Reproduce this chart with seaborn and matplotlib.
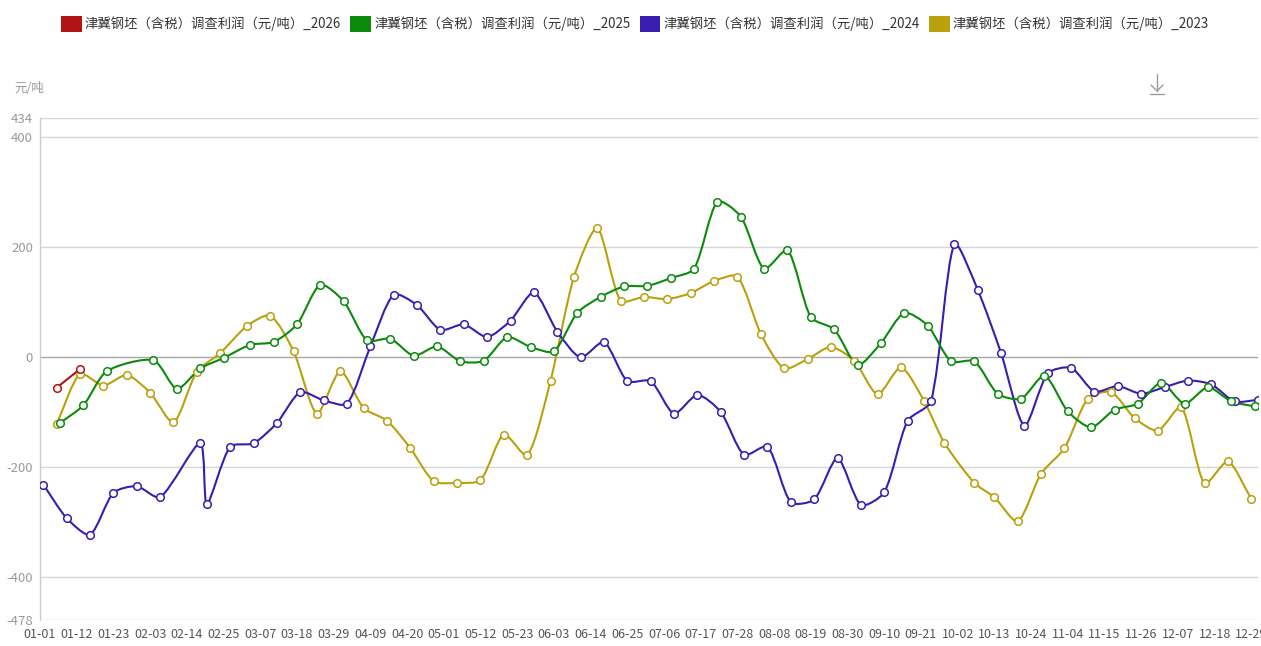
import numpy as np
import pandas as pd
import seaborn as sns
import matplotlib.pyplot as plt
from matplotlib.path import Path
from matplotlib.patches import PathPatch, Patch
from matplotlib.lines import Line2D

NAME = '津冀钢坯（含税）调查利润（元/吨）_'

dates_2026 = ['01-06', '01-13']
profit_2026 = [-56, -22]

dates_2025 = ['01-07', '01-14', '01-21', '02-04', '02-11', '02-18', '02-25', '03-04', '03-11',
              '03-18', '03-25', '04-01', '04-08', '04-15', '04-22', '04-29', '05-06', '05-13',
              '05-20', '05-27', '06-03', '06-10', '06-17', '06-24', '07-01', '07-08', '07-15',
              '07-22', '07-29', '08-05', '08-12', '08-19', '08-26', '09-02', '09-09', '09-16',
              '09-23', '09-30', '10-07', '10-14', '10-21', '10-28', '11-04', '11-11', '11-18',
              '11-25', '12-02', '12-09', '12-16', '12-23', '12-30']
profit_2025 = [-120, -88, -26, -6, -58, -21, -2, 22, 27,
               59, 131, 101, 30, 33, 2, 19, -8, -7,
               36, 18, 10, 80, 109, 128, 129, 143, 160,
               282, 255, 160, 194, 72, 50, -15, 25, 80,
               57, -8, -8, -67, -76, -34, -99, -128, -96,
               -85, -47, -85, -55, -81, -90]

dates_2024 = ['01-02', '01-09', '01-16', '01-23', '01-30', '02-06', '02-18', '02-20', '02-27',
              '03-05', '03-12', '03-19', '03-26', '04-02', '04-09', '04-16', '04-23', '04-30',
              '05-07', '05-14', '05-21', '05-28', '06-04', '06-11', '06-18', '06-25', '07-02',
              '07-09', '07-16', '07-23', '07-30', '08-06', '08-13', '08-20', '08-27', '09-03',
              '09-10', '09-17', '09-24', '10-01', '10-08', '10-15', '10-22', '10-29', '11-05',
              '11-12', '11-19', '11-26', '12-03', '12-10', '12-17', '12-24', '12-31']
profit_2024 = [-232, -293, -323, -247, -235, -255, -157, -267, -163,
               -157, -120, -64, -79, -85, 19, 113, 94, 49,
               59, 36, 66, 117, 46, -1, 27, -44, -44,
               -103, -69, -100, -178, -163, -264, -259, -184, -269,
               -246, -116, -81, 205, 122, 7, -125, -30, -20,
               -63, -53, -67, -55, -43, -50, -81, -78]

dates_2023 = ['01-06', '01-13', '01-20', '01-27', '02-03', '02-10', '02-17', '02-24', '03-03',
              '03-10', '03-17', '03-24', '03-31', '04-07', '04-14', '04-21', '04-28', '05-05',
              '05-12', '05-19', '05-26', '06-02', '06-09', '06-16', '06-23', '06-30', '07-07',
              '07-14', '07-21', '07-28', '08-04', '08-11', '08-18', '08-25', '09-01', '09-08',
              '09-15', '09-22', '09-28', '10-07', '10-13', '10-20', '10-27', '11-03', '11-10',
              '11-17', '11-24', '12-01', '12-08', '12-15', '12-22', '12-29']
profit_2023 = [-122, -31, -52, -33, -65, -119, -27, 7, 56,
               75, 10, -103, -26, -93, -116, -166, -226, -229,
               -224, -141, -179, -43, 145, 234, 102, 109, 105,
               116, 138, 146, 42, -21, -4, 18, -7, -68,
               -19, -81, -156, -229, -255, -299, -212, -166, -76,
               -64, -111, -134, -91, -230, -190, -258]

years = ['2026', '2025', '2024', '2023']
colors = {'2026': '#b01414', '2025': '#0b8a0b', '2024': '#3b1cb0', '2023': '#baa00c'}
series = {'2026': (dates_2026, profit_2026), '2025': (dates_2025, profit_2025),
          '2024': (dates_2024, profit_2024), '2023': (dates_2023, profit_2023)}

x_labels = ['01-01', '01-12', '01-23', '02-03', '02-14', '02-25', '03-07', '03-18', '03-29',
            '04-09', '04-20', '05-01', '05-12', '05-23', '06-03', '06-14', '06-25', '07-06',
            '07-17', '07-28', '08-08', '08-19', '08-30', '09-10', '09-21', '10-02', '10-13',
            '10-24', '11-04', '11-15', '11-26', '12-07', '12-18', '12-29']
y_ticks = [434, 400, 200, 0, -200, -400, -478]


def day_index(mmdd):
    # position on a full-year MM-DD category axis (leap year, 366 slots)
    return pd.to_datetime(['2024-' + d for d in mmdd]).dayofyear.values - 1


rows = []
for yr in years:
    d, v = series[yr]
    rows.append(pd.DataFrame({'x': day_index(d), 'profit': v, 'year': yr}))
df = pd.concat(rows, ignore_index=True)


def smooth_path(ax, xs, ys, smooth=0.25):
    # bezier smoothing in pixel space, like a "smooth" line in web charts
    pts = ax.transData.transform(np.column_stack([xs, ys]).astype(float))
    n = len(pts)
    cin, cout = [], []
    for i in range(n):
        cur = pts[i]
        prev = pts[max(i - 1, 0)]
        nxt = pts[min(i + 1, n - 1)]
        v = nxt - prev
        d0 = np.hypot(*(cur - prev))
        d1 = np.hypot(*(nxt - cur))
        tot = d0 + d1
        if tot == 0:
            cin.append(cur)
            cout.append(cur)
            continue
        cin.append(cur - v * smooth * d0 / tot)
        cout.append(cur + v * smooth * d1 / tot)
    verts = [pts[0]]
    codes = [Path.MOVETO]
    for i in range(1, n):
        verts += [cout[i - 1], cin[i], pts[i]]
        codes += [Path.CURVE4] * 3
    verts = ax.transData.inverted().transform(np.array(verts))
    return Path(verts, codes)


sns.set_theme(style='white')
plt.rcParams['font.family'] = ['Noto Sans CJK SC', 'DejaVu Sans']

W, H = 1261, 646
fig = plt.figure(figsize=(W / 100, H / 100), dpi=100)
ax = fig.add_axes([40 / W, 26 / H, 1218 / W, 502 / H])
ax.set_xlim(0, 365)
ax.set_ylim(-478, 434)

for t in y_ticks:
    ax.axhline(t, color='#a8a8a8' if t == 0 else '#d6d6d6', lw=1, zorder=1)

for z, yr in enumerate(reversed(years)):
    sub = df[df['year'] == yr]
    ax.add_patch(PathPatch(smooth_path(ax, sub['x'].values, sub['profit'].values),
                           fill=False, edgecolor=colors[yr], lw=1.5, zorder=2 + z))
for z, yr in enumerate(reversed(years)):
    sub = df[df['year'] == yr]
    sns.scatterplot(data=sub, x='x', y='profit', ax=ax, color='white',
                    edgecolor=colors[yr], linewidth=1.1, s=30, zorder=6 + z, legend=False)

ax.set_xticks(day_index(x_labels))
ax.set_xticklabels(x_labels)
ax.set_yticks(y_ticks)
ax.set_yticklabels([str(t) for t in y_ticks])
ax.tick_params(axis='x', length=0, pad=6, labelsize=9, labelcolor='#555555')
ax.tick_params(axis='y', length=0, pad=5, labelsize=9.5, labelcolor='#999999')
ax.set_xlabel('')
ax.set_ylabel('')
for s in ['top', 'right', 'bottom']:
    ax.spines[s].set_visible(False)
ax.spines['left'].set_color('#cccccc')
ax.spines['left'].set_linewidth(1)

fig.text(14 / W, 1 - 88 / H, '元/吨', fontsize=9, color='#999999', va='center', ha='left')

handles = [Patch(facecolor=colors[yr], edgecolor='none') for yr in years]
labels = [NAME + yr for yr in years]
leg = fig.legend(handles, labels, loc='center', bbox_to_anchor=(635 / W, 1 - 24 / H), ncol=4,
                 frameon=False, fontsize=9.6, handlelength=1.55, handleheight=1.45,
                 handletextpad=0.22, columnspacing=0.7, borderpad=0, borderaxespad=0)
for txt in leg.get_texts():
    txt.set_color('#333333')

# download icon
ic = '#999999'
fig.add_artist(Line2D([1157 / W, 1157 / W], [1 - 74 / H, 1 - 91 / H], color=ic, lw=1))
fig.add_artist(Line2D([1151 / W, 1157 / W, 1163 / W], [1 - 85 / H, 1 - 91 / H, 1 - 85 / H], color=ic, lw=1))
fig.add_artist(Line2D([1150 / W, 1164 / W], [1 - 94 / H, 1 - 94 / H], color=ic, lw=1))

fig.savefig('out.png', dpi=100)
